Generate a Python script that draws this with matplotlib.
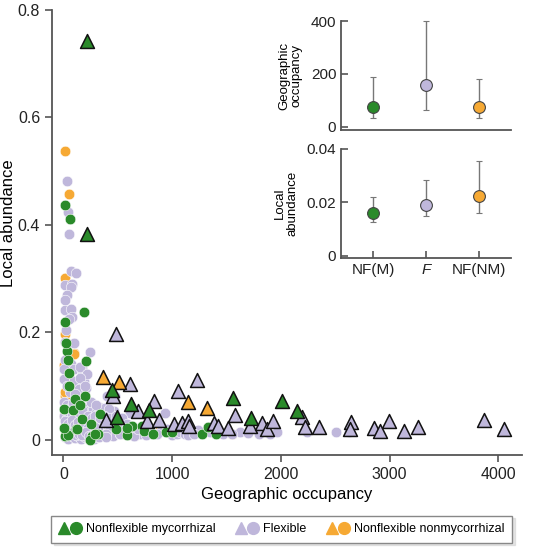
import matplotlib
matplotlib.use('Agg')
import matplotlib.pyplot as plt
from matplotlib.lines import Line2D
from matplotlib.legend_handler import HandlerTuple

plt.rcParams['font.family'] = ['Liberation Sans', 'DejaVu Sans']

# colours for the three groups
green = '#2a8a2a'
lav = '#bfb7db'
orange = '#f6a934'
axcol = '#555555'

# --- main scatter: circles (species) ---
orange_circ_x = [18, 55, 18, 18, 101, 49, 18, 3, 365, 768, 875, 1547, 10, 40, 150, 5, 300, 95]
orange_circ_y = [0.537, 0.458, 0.302, 0.197, 0.161, 0.107, 0.081, 0.045, 0.017, 0.023, 0.017, 0.0105,
                 0.09, 0.02, 0.03, 0.14, 0.012, 0.16]

lav_circ_x = [34, 40, 55, 70, 116, 18, 79, 70, 18, 70, 79, 28, 18, 101, 248, 18, 70, 171, 3, 95,
              171, 3, 95, 186, 171, 401, 477, 447, 615, 936, 462, 30, 10, 50, 156, 217, 156, 64,
              140, 211, 5, 30, 60, 90, 120, 150, 180, 210, 240, 270, 300, 330, 380, 420,
              5, 35, 65, 95, 125, 155, 185, 215, 245, 275, 305, 350, 400, 450, 500, 550,
              10, 40, 70, 100, 130, 160, 190, 220, 250, 280, 320, 360, 410, 460, 520, 600, 650,
              700, 760, 860, 900, 1000, 1043, 1073, 1119, 1150, 1241, 1471, 1624, 1899, 1960,
              2242, 2505, 2624, 1200, 1350, 1550, 1700, 1800, 15, 45, 75, 105, 135, 165, 195,
              225, 255, 285, 60, 110, 200, 30, 140, 250, 300, 645, 860, 517, 394,
              20, 50, 80, 110, 140, 170, 200, 230, 260, 290, 15, 45, 75, 105, 135, 165, 195,
              230, 260, 290, 20, 55, 85, 115, 145, 175, 205, 235, 265, 300, 340, 370, 330, 390,
              430, 480, 540, 580, 640, 690, 740, 800, 950]
lav_circ_y = [0.481, 0.425, 0.383, 0.314, 0.311, 0.288, 0.291, 0.285, 0.241, 0.244, 0.229, 0.204,
              0.182, 0.181, 0.164, 0.148, 0.142, 0.134, 0.132, 0.132, 0.129, 0.113, 0.11, 0.11,
              0.098, 0.082, 0.081, 0.052, 0.051, 0.051, 0.054, 0.27, 0.26, 0.225, 0.135, 0.122,
              0.116, 0.094, 0.094, 0.096, 0.07, 0.065, 0.06, 0.068, 0.058, 0.05, 0.062, 0.045,
              0.055, 0.06, 0.05, 0.062, 0.06, 0.058,
              0.045, 0.04, 0.048, 0.035, 0.042, 0.032, 0.04, 0.03, 0.038, 0.028, 0.035, 0.03,
              0.028, 0.025, 0.03, 0.022,
              0.025, 0.02, 0.028, 0.018, 0.025, 0.015, 0.022, 0.012, 0.02, 0.015, 0.018, 0.01,
              0.015, 0.008, 0.012, 0.015, 0.008, 0.012, 0.01, 0.011, 0.016, 0.01, 0.012, 0.014,
              0.011, 0.01, 0.018, 0.0105, 0.014, 0.0105, 0.014, 0.014, 0.015, 0.014, 0.012,
              0.015, 0.012, 0.013, 0.012, 0.005, 0.002, 0.008, 0.003, 0.007, 0.002, 0.006,
              0.003, 0.005, 0.002, 0.09, 0.085, 0.1, 0.1, 0.075, 0.07, 0.065, 0.0075, 0.0105,
              0.0105, 0.012,
              0.055, 0.052, 0.045, 0.05, 0.045, 0.055, 0.035, 0.045, 0.04, 0.045, 0.035, 0.03,
              0.038, 0.028, 0.033, 0.025, 0.03, 0.022, 0.028, 0.025, 0.015, 0.012, 0.015, 0.01,
              0.012, 0.01, 0.014, 0.008, 0.01, 0.006, 0.04, 0.045, 0.005, 0.005,
              0.04, 0.045, 0.04, 0.03, 0.025, 0.02, 0.022, 0.018, 0.02]

green_circ_x = [18, 64, 186, 18, 34, 40, 208, 49, 202, 110, 339, 171, 5, 630, 722, 945, 18, 1272,
                1404, 1333, 997, 318, 486, 743, 40, 120, 250, 90, 580, 820, 260, 150, 28, 55,
                125, 248, 3, 294, 584]
green_circ_y = [0.437, 0.412, 0.239, 0.219, 0.166, 0.149, 0.146, 0.125, 0.081, 0.076, 0.048, 0.039,
                0.057, 0.026, 0.026, 0.014, 0.0075, 0.0105, 0.012, 0.024, 0.014, 0.0105, 0.02,
                0.017, 0.01, 0.02, 0.03, 0.055, 0.01, 0.012, 0.008, 0.065, 0.18, 0.1, 0.02, 0.0,
                0.023, 0.011, 0.023]

# --- main scatter: triangles (genera) ---
green_tri_x = [217, 217, 447, 624, 786, 492, 1560, 1722, 2006, 2144]
green_tri_y = [0.743, 0.384, 0.093, 0.067, 0.056, 0.042, 0.079, 0.041, 0.072, 0.053]
orange_tri_x = [361, 514, 1141, 1318]
orange_tri_y = [0.118, 0.108, 0.071, 0.059]
lav_tri_x = [486, 609, 456, 682, 832, 394, 767, 875, 1058, 1226, 1018, 1089, 1144, 1156, 1382,
             1419, 1511, 1581, 1716, 1826, 1869, 1930, 2190, 2220, 2349, 2648, 2633, 2853, 2908,
             2993, 3131, 3260, 3865, 4048]
lav_tri_y = [0.198, 0.104, 0.081, 0.054, 0.073, 0.037, 0.036, 0.037, 0.092, 0.112, 0.029, 0.032,
             0.036, 0.026, 0.032, 0.026, 0.023, 0.046, 0.026, 0.032, 0.02, 0.036, 0.043, 0.025,
             0.025, 0.034, 0.02, 0.022, 0.017, 0.036, 0.017, 0.024, 0.037, 0.021]

# --- inset summaries ---
groups = ['NF(M)', 'F', 'NF(NM)']
group_cols = [green, lav, orange]
geo_mean = [75, 160, 75]
geo_low = [35, 65, 35]
geo_high = [190, 400, 182]
ab_mean = [0.016, 0.019, 0.0225]
ab_low = [0.0125, 0.015, 0.016]
ab_high = [0.022, 0.0285, 0.0355]


def style_axes(ax, direction, size):
    for s in ['top', 'right']:
        ax.spines[s].set_visible(False)
    for s in ['left', 'bottom']:
        ax.spines[s].set_color(axcol)
        ax.spines[s].set_linewidth(1.3)
    ax.tick_params(direction=direction, color=axcol, width=1.2, length=5,
                   labelsize=size, labelcolor='#222222')


fig = plt.figure(figsize=(5.33, 5.5), dpi=100)
ax = fig.add_axes([0.0976, 0.1727, 0.8814, 0.8091])

circ_kw = dict(marker='o', s=58, edgecolors='white', linewidths=0.4, clip_on=False)
tri_kw = dict(marker='^', s=100, edgecolors='#111111', linewidths=1.1, clip_on=False, zorder=4)
ax.scatter(orange_circ_x, orange_circ_y, color=orange, zorder=2, **circ_kw)
ax.scatter(lav_circ_x, lav_circ_y, color=lav, zorder=2, **circ_kw)
ax.scatter(green_circ_x, green_circ_y, color=green, zorder=2, **circ_kw)
ax.scatter(lav_tri_x, lav_tri_y, color=lav, **tri_kw)
ax.scatter(orange_tri_x, orange_tri_y, color=orange, **tri_kw)
ax.scatter(green_tri_x, green_tri_y, color=green, **tri_kw)

ax.set_xlim(-105, 4215)
ax.set_ylim(-0.028, 0.8)
ax.set_xticks([0, 1000, 2000, 3000, 4000])
ax.set_yticks([0, 0.2, 0.4, 0.6, 0.8])
ax.set_yticklabels(['0', '0.2', '0.4', '0.6', '0.8'])
style_axes(ax, 'out', 11.5)
ax.set_xlabel('Geographic occupancy', fontsize=12, labelpad=4)
ax.set_ylabel('Local abundance', fontsize=12)
ax.yaxis.set_label_coords(-0.076, 0.52)

# inset: geographic occupancy
xpos = list(range(len(groups)))
ax1 = fig.add_axes([0.640, 0.7636, 0.319, 0.1982])
for i in xpos:
    ax1.errorbar(i, geo_mean[i], yerr=[[geo_mean[i] - geo_low[i]], [geo_high[i] - geo_mean[i]]],
                 fmt='o', color=group_cols[i], ms=8.5, mec='#444444', mew=0.8,
                 ecolor='#777777', elinewidth=1, capsize=2.5, capthick=1, clip_on=False)
ax1.set_xlim(-0.6, 2.6)
ax1.set_ylim(-12, 400)
ax1.set_yticks([0, 200, 400])
ax1.set_xticks([])
style_axes(ax1, 'in', 11)
ax1.set_ylabel('Geographic\noccupancy', fontsize=9.5, labelpad=6, linespacing=1.0)

# inset: local abundance
ax2 = fig.add_axes([0.640, 0.5309, 0.319, 0.1982])
for i in xpos:
    ax2.errorbar(i, ab_mean[i], yerr=[[ab_mean[i] - ab_low[i]], [ab_high[i] - ab_mean[i]]],
                 fmt='o', color=group_cols[i], ms=8.5, mec='#444444', mew=0.8,
                 ecolor='#777777', elinewidth=1, capsize=2.5, capthick=1, clip_on=False)
ax2.set_xlim(-0.6, 2.6)
ax2.set_ylim(-0.0008, 0.04)
ax2.set_yticks([0, 0.02, 0.04])
ax2.set_yticklabels(['0', '0.02', '0.04'])
ax2.set_xticks(xpos)
ax2.set_xticklabels(groups)
ax2.get_xticklabels()[1].set_fontstyle('italic')
style_axes(ax2, 'in', 11)
ax2.set_ylabel('Local\nabundance', fontsize=9.5, labelpad=6, linespacing=1.0)

# legend below the chart
handles = []
for c in [green, lav, orange]:
    t = Line2D([], [], marker='^', ls='', color=c, ms=9)
    o = Line2D([], [], marker='o', ls='', color=c, ms=8.5)
    handles.append((t, o))
leg = fig.legend(handles, ['Nonflexible mycorrhizal', 'Flexible', 'Nonflexible nonmycorrhizal'],
                 handler_map={tuple: HandlerTuple(ndivide=None, pad=0.1)},
                 loc='center', bbox_to_anchor=(0.528, 0.038), ncol=3, fontsize=9,
                 frameon=True, fancybox=False, edgecolor='#888888', handlelength=1.8,
                 handletextpad=0.4, columnspacing=1.6, borderpad=0.6,
                 shadow={'color': '#cccccc', 'ox': 2, 'oy': -2})
leg.get_frame().set_linewidth(1.0)

fig.savefig('out.png', dpi=100)
